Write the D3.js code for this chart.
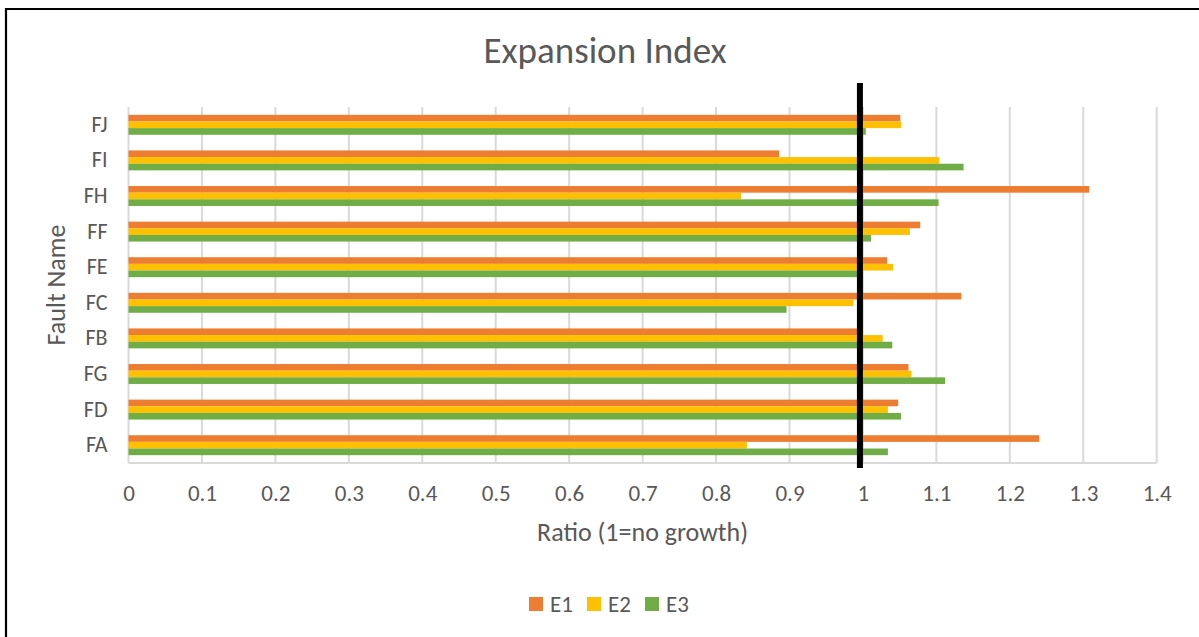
<!DOCTYPE html>
<html>
<head>
<meta charset="utf-8">
<script src="https://cdn.jsdelivr.net/npm/d3@7/dist/d3.min.js"></script>
<style>
  html, body { margin: 0; padding: 0; background: #fff; }
  svg { display: block; }
  text { font-family: Carlito, Lato, "Open Sans", sans-serif; fill: #595959; }
</style>
</head>
<body>
<svg id="chart" width="1199" height="637"></svg>
<script>
// Fault names, listed top to bottom
const faults = ["FJ", "FI", "FH", "FF", "FE", "FC", "FB", "FG", "FD", "FA"];
const seriesNames = ["E1", "E2", "E3"];
const seriesColors = ["#ED7D31", "#FFC000", "#70AD47"];

// Expansion ratio per fault for each epoch
const e1 = [1.051, 0.886, 1.308, 1.078, 1.033, 1.134, 0.995, 1.062, 1.048, 1.240];
const e2 = [1.052, 1.104, 0.834, 1.064, 1.041, 0.987, 1.027, 1.066, 1.034, 0.842];
const e3 = [1.004, 1.137, 1.103, 1.011, 0.995, 0.896, 1.040, 1.112, 1.052, 1.034];

const xTicks = [0, 0.1, 0.2, 0.3, 0.4, 0.5, 0.6, 0.7, 0.8, 0.9, 1, 1.1, 1.2, 1.3, 1.4];
const referenceValue = 1; // ratio of 1 means no growth

const rows = faults.map((f, i) => ({ fault: f, values: [e1[i], e2[i], e3[i]] }));

const svg = d3.select("#chart");
const W = 1199, H = 637;
const plot = { left: 128.5, right: 1156.7, top: 107, bottom: 463 };

// Outer frame (top and left edges visible)
svg.append("path")
  .attr("d", `M6,${H} L6,9 L${W},9`)
  .attr("fill", "none")
  .attr("stroke", "#000")
  .attr("stroke-width", 2.2);

const x = d3.scaleLinear().domain([0, 1.4]).range([plot.left, plot.right]);
const y = d3.scaleBand().domain(faults).range([plot.top, plot.bottom])
  .paddingInner(0.44).paddingOuter(0.22);
const ySub = d3.scaleBand().domain(seriesNames).range([0, y.bandwidth()]);

// Vertical gridlines
svg.append("g")
  .selectAll("line")
  .data(xTicks)
  .join("line")
  .attr("x1", d => x(d)).attr("x2", d => x(d))
  .attr("y1", plot.top).attr("y2", plot.bottom)
  .attr("stroke", "#d9d9d9")
  .attr("stroke-width", 2);

// Axis lines
svg.append("line")
  .attr("x1", plot.left).attr("x2", plot.right)
  .attr("y1", plot.bottom).attr("y2", plot.bottom)
  .attr("stroke", "#d9d9d9").attr("stroke-width", 2);

// Bars
const groups = svg.append("g")
  .selectAll("g")
  .data(rows)
  .join("g")
  .attr("transform", d => `translate(0,${y(d.fault)})`);

groups.selectAll("rect")
  .data(d => d.values.map((v, i) => ({ series: seriesNames[i], value: v, color: seriesColors[i] })))
  .join("rect")
  .attr("x", x(0))
  .attr("y", d => ySub(d.series))
  .attr("width", d => x(d.value) - x(0))
  .attr("height", ySub.bandwidth())
  .attr("fill", d => d.color);

// X axis tick labels
const xAxis = d3.axisBottom(x)
  .tickValues(xTicks)
  .tickFormat(d => d3.format("~g")(d))
  .tickSize(0)
  .tickPadding(22);
const gx = svg.append("g")
  .attr("transform", `translate(0,${plot.bottom})`)
  .call(xAxis);
gx.select(".domain").remove();
gx.selectAll("text")
  .style("font-size", "23px")
  .attr("fill", "#595959");

// Y axis category labels
const yAxis = d3.axisLeft(y).tickSize(0).tickPadding(21);
const gy = svg.append("g")
  .attr("transform", `translate(${plot.left},0)`)
  .call(yAxis);
gy.select(".domain").remove();
gy.selectAll("text")
  .style("font-size", "22px")
  .attr("fill", "#595959");

// Reference line at ratio 1
svg.append("line")
  .attr("x1", x(referenceValue) - 3).attr("x2", x(referenceValue) - 3)
  .attr("y1", plot.top - 24).attr("y2", plot.bottom + 5)
  .attr("stroke", "#000")
  .attr("stroke-width", 6);

// Title
svg.append("text")
  .attr("x", 605).attr("y", 63)
  .attr("text-anchor", "middle")
  .style("font-size", "37px")
  .style("font-weight", 300)
  .text("Expansion Index");

// Axis titles
svg.append("text")
  .attr("x", (plot.left + plot.right) / 2).attr("y", 541)
  .attr("text-anchor", "middle")
  .style("font-size", "26px")
  .text("Ratio (1=no growth)");

svg.append("text")
  .attr("transform", `translate(65,${(plot.top + plot.bottom) / 2}) rotate(-90)`)
  .attr("text-anchor", "middle")
  .style("font-size", "26px")
  .text("Fault Name");

// Legend
const legend = svg.append("g").attr("transform", "translate(529,597)");
const items = legend.selectAll("g")
  .data(seriesNames)
  .join("g")
  .attr("transform", (d, i) => `translate(${i * 58},0)`);
items.append("rect")
  .attr("width", 14).attr("height", 14)
  .attr("fill", (d, i) => seriesColors[i]);
items.append("text")
  .attr("x", 21).attr("y", 15)
  .style("font-size", "23px")
  .text(d => d);
</script>
</body>
</html>
